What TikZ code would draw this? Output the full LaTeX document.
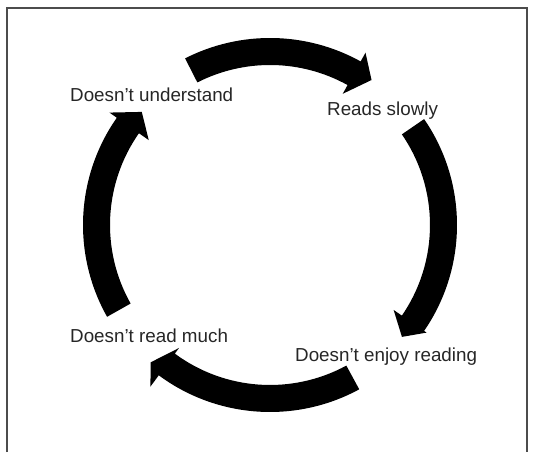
\documentclass[tikz,border=0pt]{standalone}
\usepackage{fontspec}
\setmainfont{Liberation Sans}
\begin{document}
\begin{tikzpicture}[x=1pt,y=1pt,
  lbl/.style={anchor=base west,inner sep=0pt,font=\fontsize{18.8}{22}\selectfont,text=black!85},
  frameline/.style={draw=black!70,line width=1.3pt},
  bandarrow/.style={fill=black}]
\useasboundingbox (0,0) rectangle (537,452);
% frame
\draw[frameline] (7,0) -- (7,444) -- (527,444) -- (527,0);
% labels
\node[lbl] (du)  at (70,350) {Doesn’t understand};
\node[lbl] (rs)  at (327,336) {Reads slowly};
\node[lbl] (drm) at (70,110) {Doesn’t read much};
\node[lbl] (der) at (295,91) {Doesn’t enjoy reading};
% arrows: tail, base, tip angle, tip radius, barb out, barb in
\def\Ro{187}\def\Ri{160}
\newcommand\bandarr[6]{%
  \fill[bandarrow] (#1:\Ro) arc[start angle=#1,end angle=#2,radius=\Ro]
    -- (#2:#5) -- (#3:#4) -- (#2:#6) -- (#2:\Ri)
    arc[start angle=#2,end angle=#1,radius=\Ri] -- cycle;}
\begin{scope}[shift={(270,227)}]
  \bandarr{117}{61}{55}{177}{197}{150}
  \bandarr{34.5}{-34.5}{-40.3}{173}{190}{150}
  \bandarr{-61.5}{-126.5}{-131}{182}{201}{153}
  \bandarr{209.4}{145}{138.6}{171}{196}{148}
\end{scope}
\end{tikzpicture}
\end{document}
